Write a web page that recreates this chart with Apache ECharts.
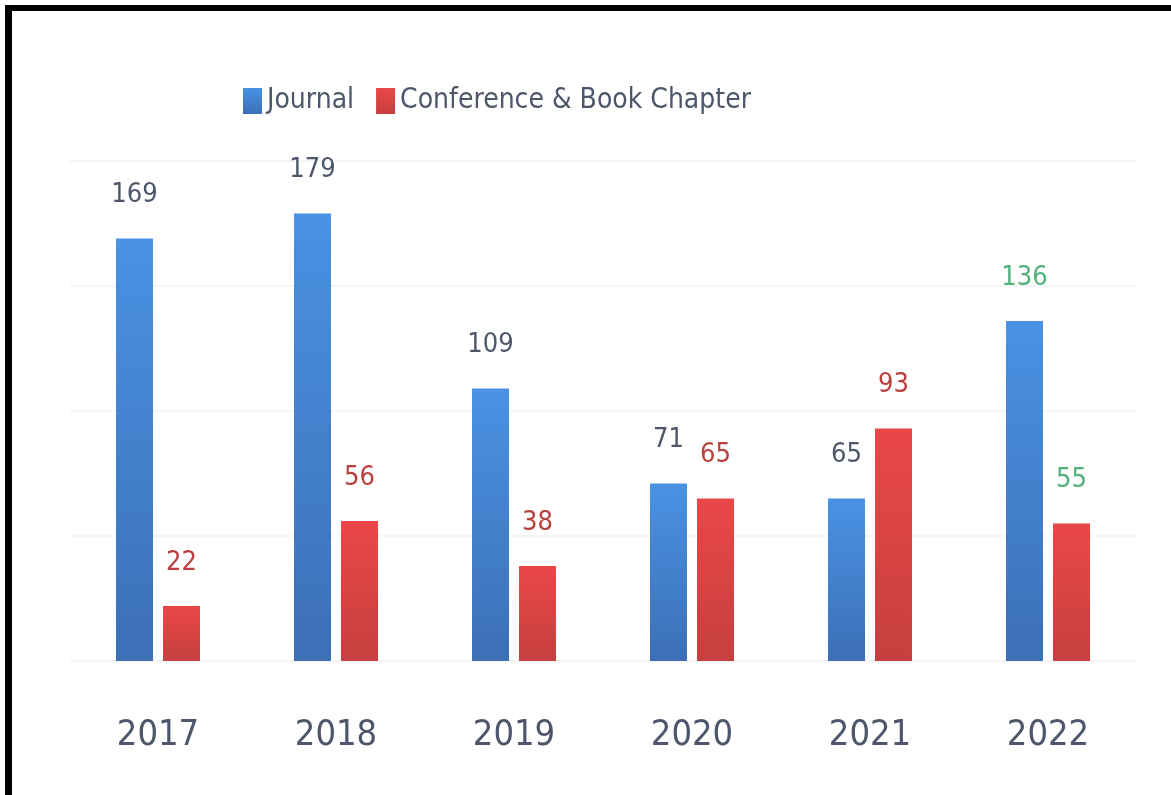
<!DOCTYPE html>
<html>
<head>
<meta charset="utf-8">
<script src="https://cdn.jsdelivr.net/npm/echarts@6/dist/echarts.min.js"></script>
<style>
  html, body { margin: 0; padding: 0; background: #fff; }
  #chart { width: 1171px; height: 795px; }
</style>
</head>
<body>
<div id="chart"></div>
<script>
// 数据
const years = ['2017', '2018', '2019', '2020', '2021', '2022']
const journal = [169, 179, 109, 71, 65, 136]
const conference = [22, 56, 38, 65, 93, 55]
const yTicks = [0, 50, 100, 150, 200]

const FONT = '"DejaVu Sans Condensed", "Liberation Sans Narrow", sans-serif'
const textColor = '#4d566b'

// 标签颜色（2022 年为绿色）
const journalLabelColors = ['#4d566b', '#4d566b', '#4d566b', '#4d566b', '#4d566b', '#52b07a']
const confLabelColors = ['#b8413f', '#b8413f', '#b8413f', '#b8413f', '#b8413f', '#52b07a']

function grad(top, bottom) {
  return new echarts.graphic.LinearGradient(0, 0, 0, 1, [
    { offset: 0, color: top },
    { offset: 1, color: bottom }
  ])
}

const chart = echarts.init(document.getElementById('chart'))

const option = {
  backgroundColor: '#fff',
  animation: false,
  legend: {
    top: 82,
    left: 238,
    itemWidth: 19,
    itemHeight: 26,
    itemGap: 22,
    icon: 'rect',
    textStyle: { fontFamily: FONT, fontSize: 28, color: textColor },
    data: ['Journal', 'Conference & Book Chapter']
  },
  grid: { left: 69, right: 34, top: 161, bottom: 134 },
  xAxis: {
    type: 'category',
    data: years,
    axisLine: { show: false },
    axisTick: { show: false },
    axisLabel: { fontFamily: FONT, fontSize: 36, color: textColor, margin: 57 }
  },
  yAxis: {
    type: 'value',
    min: yTicks[0],
    max: yTicks[yTicks.length - 1],
    interval: 50,
    axisLabel: { show: false },
    axisLine: { show: false },
    axisTick: { show: false },
    splitLine: { lineStyle: { color: '#f6f6f6', width: 2 } }
  },
  series: [
    {
      name: 'Journal',
      type: 'bar',
      barWidth: 37,
      barGap: '27%',
      itemStyle: { color: grad('#4a92e3', '#3c6fb6') },
      data: journal.map((v, i) => ({
        value: v,
        label: { color: journalLabelColors[i] }
      })),
      label: {
        show: true,
        position: 'top',
        distance: 30,
        fontFamily: FONT,
        fontSize: 27
      }
    },
    {
      name: 'Conference & Book Chapter',
      type: 'bar',
      barWidth: 37,
      itemStyle: { color: grad('#ea4747', '#c63f3f') },
      data: conference.map((v, i) => ({
        value: v,
        label: { color: confLabelColors[i] }
      })),
      label: {
        show: true,
        position: 'top',
        distance: 30,
        fontFamily: FONT,
        fontSize: 27
      }
    }
  ],
  graphic: [
    { type: 'rect', shape: { x: 5, y: 5, width: 1166, height: 6 }, style: { fill: '#000' } },
    { type: 'rect', shape: { x: 5, y: 5, width: 7, height: 790 }, style: { fill: '#000' } }
  ]
}

chart.setOption(option)
</script>
</body>
</html>
